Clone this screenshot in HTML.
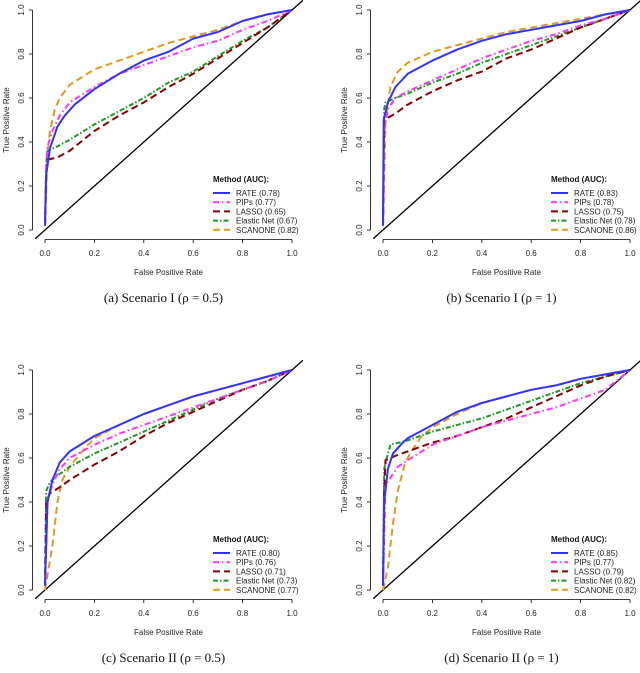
<!DOCTYPE html>
<html><head><meta charset="utf-8"><style>
body{margin:0;background:#fff}
svg text{font-family:"Liberation Sans",sans-serif}
.cap{font-family:"Liberation Serif",serif;font-size:13px}
</style></head><body>
<svg id="s" width="640" height="668" viewBox="0 0 640 668" xmlns="http://www.w3.org/2000/svg"></svg>
<script>
const methods = ["RATE","PIPs","LASSO","Elastic Net","SCANONE"];
const panelCaptions = ["(a)  Scenario I (\u03C1 = 0.5)","(b)  Scenario I (\u03C1 = 1)","(c)  Scenario II (\u03C1 = 0.5)","(d)  Scenario II (\u03C1 = 1)"];
const aucA = ["0.78","0.77","0.65","0.67","0.82"];
const aucB = ["0.83","0.78","0.75","0.78","0.86"];
const aucC = ["0.80","0.76","0.71","0.73","0.77"];
const aucD = ["0.85","0.77","0.79","0.82","0.82"];
const ticks = [0,0.2,0.4,0.6,0.8,1.0];
const tickLabels = ["0.0","0.2","0.4","0.6","0.8","1.0"];
// panel a
const aRATE=[[0,0.02],[0.005,0.25],[0.02,0.37],[0.05,0.47],[0.08,0.52],[0.12,0.57],[0.2,0.64],[0.3,0.71],[0.4,0.77],[0.5,0.81],[0.6,0.87],[0.7,0.9],[0.8,0.95],[0.9,0.98],[1,1]];
const aPIPs=[[0,0.02],[0.005,0.3],[0.01,0.38],[0.03,0.45],[0.06,0.52],[0.1,0.58],[0.2,0.65],[0.3,0.71],[0.4,0.75],[0.5,0.79],[0.6,0.83],[0.7,0.86],[0.8,0.91],[0.9,0.95],[1,1]];
const aLASSO=[[0,0.02],[0.005,0.25],[0.01,0.32],[0.05,0.33],[0.1,0.36],[0.2,0.45],[0.3,0.52],[0.4,0.58],[0.5,0.65],[0.6,0.71],[0.7,0.78],[0.8,0.85],[0.9,0.92],[1,1]];
const aEN=[[0,0.02],[0.005,0.3],[0.01,0.36],[0.05,0.38],[0.1,0.41],[0.2,0.48],[0.3,0.54],[0.4,0.6],[0.5,0.67],[0.6,0.72],[0.7,0.79],[0.8,0.86],[0.9,0.92],[1,1]];
const aSCAN=[[0,0.02],[0.01,0.35],[0.02,0.45],[0.04,0.55],[0.06,0.6],[0.1,0.66],[0.2,0.73],[0.3,0.77],[0.4,0.81],[0.5,0.85],[0.6,0.88],[0.7,0.91],[0.8,0.95],[0.9,0.98],[1,1]];
// panel b
const bRATE=[[0,0.02],[0.003,0.5],[0.02,0.58],[0.05,0.65],[0.1,0.71],[0.2,0.77],[0.3,0.82],[0.4,0.86],[0.5,0.89],[0.6,0.91],[0.7,0.93],[0.8,0.95],[0.9,0.98],[1,1]];
const bPIPs=[[0,0.02],[0.005,0.45],[0.02,0.55],[0.05,0.6],[0.1,0.63],[0.2,0.68],[0.3,0.73],[0.4,0.78],[0.5,0.82],[0.6,0.86],[0.7,0.89],[0.8,0.93],[0.9,0.96],[1,1]];
const bLASSO=[[0,0.02],[0.005,0.5],[0.02,0.51],[0.05,0.53],[0.1,0.57],[0.2,0.63],[0.3,0.68],[0.4,0.72],[0.5,0.78],[0.6,0.82],[0.7,0.87],[0.8,0.92],[0.9,0.96],[1,1]];
const bEN=[[0,0.02],[0.005,0.55],[0.01,0.58],[0.05,0.6],[0.1,0.62],[0.2,0.67],[0.3,0.71],[0.4,0.76],[0.5,0.8],[0.6,0.84],[0.7,0.88],[0.8,0.92],[0.9,0.96],[1,1]];
const bSCAN=[[0,0.02],[0.01,0.5],[0.03,0.65],[0.06,0.72],[0.1,0.76],[0.2,0.81],[0.3,0.84],[0.4,0.87],[0.5,0.9],[0.6,0.92],[0.7,0.94],[0.8,0.96],[0.9,0.98],[1,1]];
// panel c
const cRATE=[[0,0.02],[0.01,0.4],[0.03,0.5],[0.06,0.58],[0.1,0.63],[0.2,0.7],[0.3,0.75],[0.4,0.8],[0.5,0.84],[0.6,0.88],[0.7,0.91],[0.8,0.94],[0.9,0.97],[1,1]];
const cPIPs=[[0,0.02],[0.01,0.4],[0.03,0.48],[0.06,0.55],[0.1,0.6],[0.2,0.66],[0.3,0.71],[0.4,0.75],[0.5,0.79],[0.6,0.83],[0.7,0.87],[0.8,0.91],[0.9,0.95],[1,1]];
const cLASSO=[[0,0.02],[0.005,0.4],[0.02,0.44],[0.05,0.46],[0.1,0.5],[0.2,0.57],[0.3,0.63],[0.4,0.7],[0.5,0.76],[0.6,0.81],[0.7,0.86],[0.8,0.91],[0.9,0.95],[1,1]];
const cEN=[[0,0.02],[0.005,0.45],[0.02,0.49],[0.05,0.52],[0.1,0.56],[0.2,0.62],[0.3,0.67],[0.4,0.72],[0.5,0.77],[0.6,0.82],[0.7,0.87],[0.8,0.91],[0.9,0.95],[1,1]];
const cSCAN=[[0,0],[0.03,0.2],[0.05,0.4],[0.07,0.5],[0.1,0.56],[0.15,0.63],[0.2,0.69],[0.3,0.75],[0.4,0.8],[0.5,0.84],[0.6,0.88],[0.7,0.91],[0.8,0.94],[0.9,0.97],[1,1]];
// panel d
const dRATE=[[0,0.02],[0.005,0.4],[0.02,0.55],[0.04,0.62],[0.08,0.67],[0.1,0.69],[0.2,0.75],[0.3,0.81],[0.4,0.85],[0.5,0.88],[0.6,0.91],[0.7,0.93],[0.8,0.96],[0.9,0.98],[1,1]];
const dPIPs=[[0,0.02],[0.01,0.48],[0.03,0.51],[0.06,0.56],[0.1,0.59],[0.2,0.66],[0.3,0.7],[0.4,0.74],[0.5,0.77],[0.6,0.8],[0.7,0.83],[0.8,0.87],[0.9,0.91],[1,1]];
const dLASSO=[[0,0.02],[0.005,0.45],[0.01,0.59],[0.05,0.61],[0.1,0.63],[0.2,0.67],[0.3,0.7],[0.4,0.74],[0.5,0.78],[0.6,0.83],[0.7,0.88],[0.8,0.93],[0.9,0.97],[1,1]];
const dEN=[[0,0.02],[0.005,0.55],[0.02,0.62],[0.03,0.66],[0.1,0.68],[0.2,0.72],[0.3,0.75],[0.4,0.78],[0.5,0.82],[0.6,0.86],[0.7,0.9],[0.8,0.94],[0.9,0.97],[1,1]];
const dSCAN=[[0,0],[0.02,0.1],[0.04,0.3],[0.06,0.45],[0.09,0.58],[0.11,0.62],[0.15,0.69],[0.2,0.74],[0.3,0.8],[0.4,0.85],[0.5,0.88],[0.6,0.91],[0.7,0.93],[0.8,0.96],[0.9,0.98],[1,1]];

const panels=[
 {ox:0,oy:0,series:[aRATE,aPIPs,aLASSO,aEN,aSCAN],auc:aucA},
 {ox:338,oy:0,series:[bRATE,bPIPs,bLASSO,bEN,bSCAN],auc:aucB},
 {ox:0,oy:360,series:[cRATE,cPIPs,cLASSO,cEN,cSCAN],auc:aucC},
 {ox:338,oy:360,series:[dRATE,dPIPs,dLASSO,dEN,dSCAN],auc:aucD}];
const colors=["#3333ff","#ff33ff","#8b0000","#229922","#e09a20"];
const dashes=["","6 3 1.5 3","7 4","5 2 1.5 2","7 4"];
const NS="http://www.w3.org/2000/svg";
const svg=document.getElementById('s');
function mk(tag,attrs,parent,text){const e=document.createElementNS(NS,tag);for(const k in attrs)e.setAttribute(k,attrs[k]);if(text!==undefined)e.textContent=text;(parent||svg).appendChild(e);return e;}
panels.forEach((p,pi)=>{
 const g=mk('g',{});
 
 
 const x0=45+p.ox,x1=292+p.ox,y0=230+p.oy,y1=10+p.oy;
 const X=v=>x0+(x1-x0)*v, Y=v=>y0-(y0-y1)*v;
 const cid='clip'+pi;
 const cp=mk('clipPath',{id:cid},g);mk('rect',{x:35+p.ox,y:p.oy,width:268,height:239},cp);
 // axes
 const xa=mk('g',{},g);
 
 
 mk('line',{x1:X(0),x2:X(1),y1:239.5+p.oy,y2:239.5+p.oy,stroke:'#000','stroke-width':0.8},xa);
 ticks.forEach((t,i)=>{mk('line',{x1:X(t),x2:X(t),y1:239.5+p.oy,y2:243+p.oy,stroke:'#000','stroke-width':0.8},xa);
  const tl=mk('text',{x:X(t),y:256+p.oy,'font-size':8,'text-anchor':'middle',fill:'#222'},xa,tickLabels[i]);
  
  });
 const ya=mk('g',{},g);
 
 
 mk('line',{x1:32.5+p.ox,x2:32.5+p.ox,y1:Y(0),y2:Y(1),stroke:'#000','stroke-width':0.8},ya);
 ticks.forEach((t,i)=>{mk('line',{x1:29+p.ox,x2:32.5+p.ox,y1:Y(t),y2:Y(t),stroke:'#000','stroke-width':0.8},ya);
  const tl=mk('text',{x:0,y:0,'font-size':8,'text-anchor':'middle',fill:'#222',transform:`translate(${24+p.ox},${Y(t)}) rotate(-90)`},ya,tickLabels[i]);
  
  });
 const xt=mk('text',{x:(x0+x1)/2,y:275+p.oy,'font-size':8,'text-anchor':'middle',fill:'#222'},g,'False Positive Rate');
 
 
 const yt=mk('text',{x:0,y:0,'font-size':8,'text-anchor':'middle',fill:'#222',transform:`translate(${9+p.ox},${(y0+y1)/2}) rotate(-90)`},g,'True Positive Rate');
 
 
 const cl=mk('g',{'clip-path':`url(#${cid})`},g);
 const dg=mk('line',{x1:X(-0.1),y1:Y(-0.1),x2:X(1.1),y2:Y(1.1),stroke:'#000','stroke-width':1.3},cl);
 
 
 for(let si=p.series.length-1;si>=0;si--){
  const d=p.series[si].map((pt,i)=>(i?'L':'M')+X(pt[0]).toFixed(1)+','+Y(pt[1]).toFixed(1)).join('');
  const pa=mk('path',{d:d,fill:'none',stroke:colors[si],'stroke-width':2,'stroke-dasharray':dashes[si],'stroke-linejoin':'round'},cl);
  
  
 }
 const lg=mk('g',{},g);
 
 
 mk('text',{x:213+p.ox,y:182+p.oy,'font-size':8,'font-weight':'bold',fill:'#111'},lg,'Method (AUC):');
 methods.forEach((m,i)=>{const yy=193+i*9.2+p.oy;
  mk('line',{x1:213+p.ox,x2:230+p.ox,y1:yy,y2:yy,stroke:colors[i],'stroke-width':2,'stroke-dasharray':dashes[i]},lg);
  const le=mk('text',{x:236+p.ox,y:yy+3,'font-size':8,fill:'#222'},lg,`${m} (${p.auc[i]})`);
  
  });
 const cap=mk('text',{x:(x0+x1)/2-5,y:302+p.oy,'text-anchor':'middle',class:'cap',fill:'#111'},g,panelCaptions[pi]);
 
 
});
</script>
</body></html>
